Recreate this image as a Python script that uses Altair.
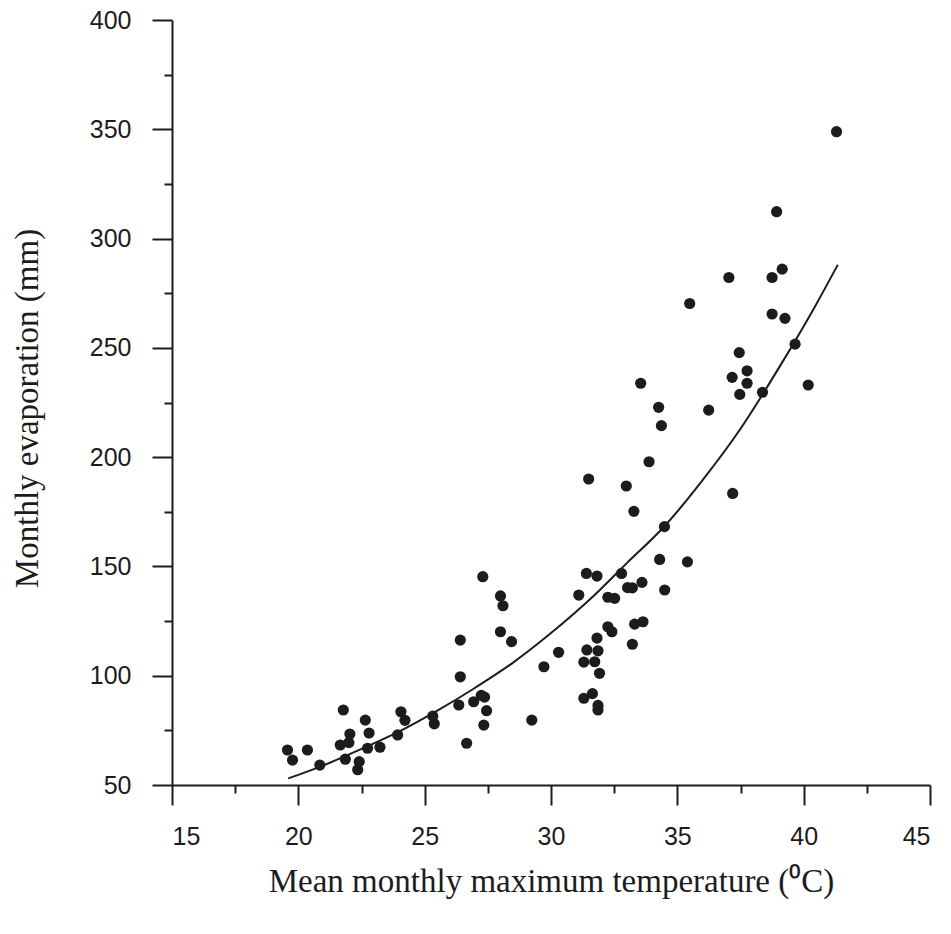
import altair as alt
import pandas as pd

# Mean monthly maximum temperature (deg C)
temp = [19.57, 19.77, 20.36, 20.85, 21.66, 21.78, 21.86, 22.00, 22.04, 22.35,
        22.41, 22.65, 22.74, 22.80, 23.23, 23.93, 24.06, 24.22, 25.32, 25.38,
        26.35, 26.41, 26.41, 26.66, 26.94, 27.24, 27.30, 27.37, 27.34, 27.45,
        28.00, 28.10, 28.00, 28.44, 29.24, 29.72, 30.30, 31.10, 31.30, 31.30,
        31.40, 31.49, 31.42, 31.64, 31.73, 31.82, 31.82, 31.86, 31.86, 31.86,
        31.92, 32.25, 32.25, 32.41, 32.52, 32.79, 32.98, 33.03, 33.22, 33.22,
        33.28, 33.31, 33.55, 33.60, 33.64, 33.88, 34.26, 34.30, 34.37, 34.49,
        34.50, 35.40, 35.49, 36.24, 37.04, 37.17, 37.19, 37.45, 37.47, 37.76,
        37.76, 38.37, 38.75, 38.75, 38.93, 39.15, 39.26, 39.66, 40.18, 41.30]

# Monthly evaporation (mm)
evap = [66.0, 61.4, 66.0, 59.1, 68.3, 84.3, 61.8, 69.4, 73.3, 57.0,
        60.7, 79.7, 66.8, 73.8, 67.3, 72.9, 83.5, 79.6, 81.5, 78.0,
        86.6, 116.3, 99.5, 69.1, 88.1, 91.0, 145.3, 90.2, 77.4, 84.0,
        136.5, 132.0, 120.1, 115.6, 79.7, 104.1, 110.7, 136.9, 106.2, 89.7,
        146.8, 190.0, 111.8, 91.8, 106.4, 145.6, 117.2, 111.4, 86.4, 84.3,
        101.1, 135.9, 122.4, 120.1, 135.4, 146.8, 186.8, 140.3, 140.2, 114.4,
        175.2, 123.6, 233.8, 142.7, 124.7, 197.9, 222.8, 153.2, 214.4, 168.2,
        139.2, 152.1, 270.3, 221.5, 282.2, 236.5, 183.4, 247.8, 228.7, 239.5,
        233.8, 229.7, 282.2, 265.5, 312.3, 286.0, 263.5, 251.7, 233.0, 348.9]

# Fitted curve
curve_temp = [19.6, 21.0, 22.5, 24.0, 25.5, 27.0, 28.5, 30.0, 31.5, 33.0,
              34.5, 36.0, 37.5, 39.0, 40.5, 41.35]
curve_evap = [53.0, 59.0, 66.5, 74.5, 84.0, 94.5, 106.0, 119.5, 134.5, 151.5,
              168.5, 189.5, 213.0, 240.5, 270.0, 288.0]

x_ticks = [15, 17.5, 20, 22.5, 25, 27.5, 30, 32.5, 35, 37.5, 40, 42.5, 45]
y_ticks = [50, 75, 100, 125, 150, 175, 200, 225, 250, 275, 300, 325, 350, 375, 400]

df = pd.DataFrame({"temp": temp, "evap": evap})
df_curve = pd.DataFrame({"temp": curve_temp, "evap": curve_evap})

INK = "#1c1c1c"

x_enc = alt.X(
    "temp:Q",
    scale=alt.Scale(domain=[15, 45], nice=False, zero=False),
    axis=alt.Axis(
        values=x_ticks,
        labelExpr="datum.value % 5 === 0 ? datum.label : ''",
        tickSize={"condition": {"test": "datum.value % 5 === 0", "value": 20}, "value": 8},
        grid=False,
        domainColor=INK, domainWidth=2, tickColor=INK, tickWidth=2,
        labelFont="Liberation Sans", labelFontSize=25, labelColor=INK,
        labelPadding=19,
        title="Mean monthly maximum temperature (⁰C)",
        titleFont="Liberation Serif", titleFontSize=33, titleFontWeight="normal",
        titleColor=INK, titleBaseline="alphabetic", titleY=106,
    ),
)

y_enc = alt.Y(
    "evap:Q",
    scale=alt.Scale(domain=[50, 400], nice=False, zero=False),
    axis=alt.Axis(
        values=y_ticks,
        labelExpr="datum.value % 50 === 0 ? datum.label : ''",
        tickSize={"condition": {"test": "datum.value % 50 === 0", "value": 20}, "value": 8},
        grid=False,
        domainColor=INK, domainWidth=2, tickColor=INK, tickWidth=2,
        labelFont="Liberation Sans", labelFontSize=25, labelColor=INK,
        labelPadding=21,
        title="Monthly evaporation (mm)",
        titleFont="Liberation Serif", titleFontSize=33, titleFontWeight="normal",
        titleColor=INK, titleBaseline="alphabetic", titleX=-135, titleY=388,
    ),
)

points = alt.Chart(df).mark_circle(size=125, color=INK, opacity=1).encode(x=x_enc, y=y_enc)

curve = (
    alt.Chart(df_curve)
    .mark_line(color=INK, strokeWidth=2, interpolate="monotone")
    .encode(x=x_enc, y=y_enc)
)

chart = (
    alt.layer(points, curve)
    .properties(
        width=758,
        height=765,
        padding={"left": 172, "top": 20, "right": 21, "bottom": 149},
        autosize=alt.AutoSizeParams(type="none"),
        background="white",
    )
    .configure_view(stroke=None)
)

chart.save("out.html", embed_options={"renderer": "svg", "actions": False})
